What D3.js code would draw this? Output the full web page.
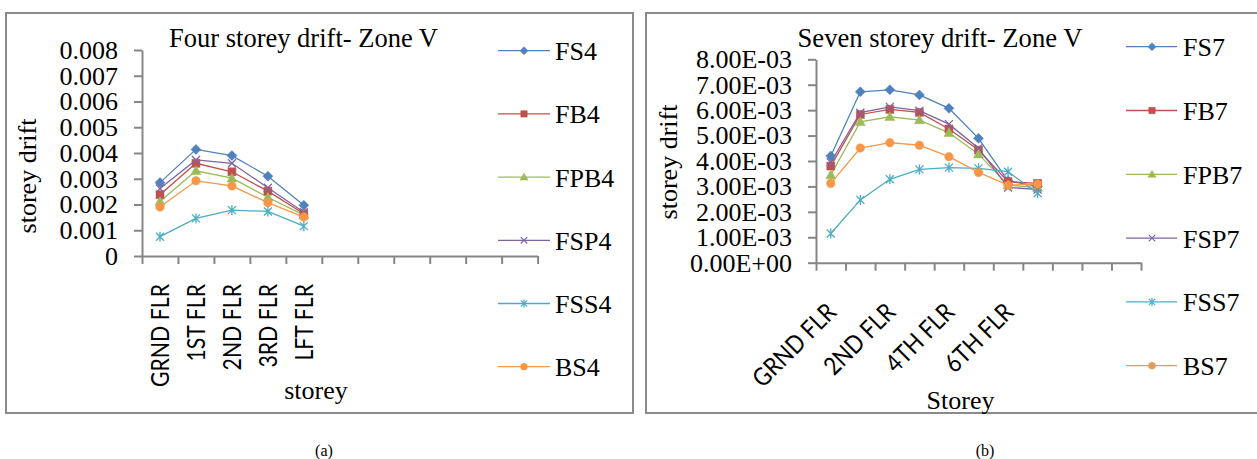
<!DOCTYPE html>
<html>
<head>
<meta charset="utf-8">
<script src="https://cdn.jsdelivr.net/npm/d3@7"></script>
<style>
  body { margin: 0; background: #fff; }
  text { font-family: "Liberation Serif", "Times New Roman", serif; fill: #000; }
  .cat text { font-family: Lato, "Open Sans", sans-serif; }
</style>
</head>
<body>
<svg id="canvas"></svg>
<script>
const width = 1257
const height = 459

// chart (a) - four storey
const floors4 = ["GRND FLR", "1ST FLR", "2ND FLR", "3RD FLR", "LFT FLR"]
const series4 = ["FS4", "FB4", "FPB4", "FSP4", "FSS4", "BS4"]
const fs4  = [0.00285, 0.00414, 0.00390, 0.00310, 0.00197]
const fb4  = [0.00238, 0.00360, 0.00327, 0.00252, 0.00164]
const fpb4 = [0.00212, 0.00331, 0.00302, 0.00228, 0.00159]
const fsp4 = [0.00262, 0.00373, 0.00360, 0.00265, 0.00170]
const fss4 = [0.00075, 0.00146, 0.00178, 0.00173, 0.00116]
const bs4  = [0.00190, 0.00292, 0.00272, 0.00207, 0.00151]

// chart (b) - seven storey
const floors7 = ["GRND FLR", "1ST FLR", "2ND FLR", "3RD FLR", "4TH FLR", "5TH FLR", "6TH FLR", "LFT FLR"]
const series7 = ["FS7", "FB7", "FPB7", "FSP7", "FSS7", "BS7"]
const fs7  = [0.00420, 0.00672, 0.00680, 0.00660, 0.00607, 0.00489, 0.00322, 0.00300]
const fb7  = [0.00380, 0.00583, 0.00603, 0.00591, 0.00526, 0.00443, 0.00319, 0.00312]
const fpb7 = [0.00345, 0.00554, 0.00574, 0.00561, 0.00511, 0.00427, 0.00305, 0.00295]
const fsp7 = [0.00395, 0.00590, 0.00613, 0.00598, 0.00545, 0.00450, 0.00296, 0.00288]
const fss7 = [0.00115, 0.00247, 0.00328, 0.00367, 0.00374, 0.00371, 0.00358, 0.00273]
const bs7  = [0.00312, 0.00451, 0.00472, 0.00462, 0.00417, 0.00355, 0.00305, 0.00309]

const yTicks = [0, 0.001, 0.002, 0.003, 0.004, 0.005, 0.006, 0.007, 0.008]
const slots = 11

const colors = ["#4F81BD", "#C0504D", "#9BBB59", "#8064A2", "#4BACC6", "#F79646"]
const shapes = ["diamond", "square", "triangle", "x", "star", "circle"]

const plainFmt = d => d === 0 ? "0" : d.toFixed(3)
const sciFmt = d => {
  const [m, e] = d.toExponential(2).split("e")
  const n = +e
  return m + "E" + (n < 0 ? "-" : "+") + String(Math.abs(n)).padStart(2, "0")
}

const markerPath = (shape, r) => {
  if (shape === "diamond") return `M0,${-r}L${r},0L0,${r}L${-r},0Z`
  if (shape === "square") return `M${-r * 0.8},${-r * 0.8}H${r * 0.8}V${r * 0.8}H${-r * 0.8}Z`
  if (shape === "triangle") return `M0,${-r}L${r},${r * 0.75}L${-r},${r * 0.75}Z`
  if (shape === "x") return `M${-r * 0.8},${-r * 0.8}L${r * 0.8},${r * 0.8}M${-r * 0.8},${r * 0.8}L${r * 0.8},${-r * 0.8}`
  if (shape === "star") return `M${-r * 0.8},${-r * 0.8}L${r * 0.8},${r * 0.8}M${-r * 0.8},${r * 0.8}L${r * 0.8},${-r * 0.8}M0,${-r}L0,${r}`
  const c = r * 0.85
  return `M${-c},0A${c},${c} 0 1,0 ${c},0A${c},${c} 0 1,0 ${-c},0Z`
}
const filled = s => s !== "x" && s !== "star"

// scale a text's font so it spans the width seen in the picture
const fitFont = (sel, base, target) => {
  const len = sel.node().getComputedTextLength()
  const size = len > 0 ? base * target / len : base
  sel.attr("font-size", size)
  return size
}

const charts = [
  {
    floors: floors4, names: series4, values: [fs4, fb4, fpb4, fsp4, fss4, bs4],
    shown: i => i < floors4.length, rotate: -90, fmt: plainFmt,
    title: "Four storey drift- Zone V", titleW: 269, xTitle: "storey", caption: "(a)",
    frame: [6, 13, 633, 413], x0: 142, x1: 537.6, yTop: 50, yBottom: 256,
    titleX: 303.5, yLabel: [36, 176], xLabel: [316, 399], capX: 324,
    legX: [498, 550, 524, 555], legY0: 50.7, legStep: 63.2
  },
  {
    floors: floors7, names: series7, values: [fs7, fb7, fpb7, fsp7, fss7, bs7],
    shown: i => i < floors7.length && i % 2 === 0, rotate: -45, fmt: sciFmt,
    title: "Seven storey drift- Zone V", titleW: 285, xTitle: "Storey", caption: "(b)",
    frame: [646, 13, 1262, 413], x0: 816, x1: 1141, yTop: 59.3, yBottom: 262.7,
    titleX: 940, yLabel: [677, 162], xLabel: [960.5, 409], capX: 985,
    legX: [1126, 1177, 1152, 1183], legY0: 46.7, legStep: 63.8
  }
]

const canvas = d3.select("#canvas").attr("width", width).attr("height", height)

const drawChart = (c) => {
  const g = canvas.append("g")

  g.append("rect")
    .attr("x", c.frame[0]).attr("y", c.frame[1])
    .attr("width", c.frame[2] - c.frame[0]).attr("height", c.frame[3] - c.frame[1])
    .attr("fill", "none").attr("stroke", "#8a8a8a").attr("stroke-width", 2)

  const xScale = d3.scaleBand().domain(d3.range(slots)).range([c.x0, c.x1])
  const edgeScale = d3.scaleLinear().domain([0, slots]).range([c.x0, c.x1])
  const yScale = d3.scaleLinear().domain([0, 0.008]).range([c.yBottom, c.yTop])

  // y axis
  const yAxis = d3.axisLeft(yScale).tickValues(yTicks).tickSize(8).tickSizeOuter(0)
    .tickPadding(16).tickFormat(c.fmt)
  const ya = g.append("g").attr("transform", `translate(${c.x0},0)`).call(yAxis)
  ya.selectAll("text").attr("font-size", 26).attr("fill", "#000")

  // x axis tick marks between categories
  const xTicks = d3.axisBottom(edgeScale).tickValues(d3.range(slots + 1)).tickSize(8)
    .tickSizeOuter(0).tickFormat("")
  g.append("g").attr("transform", `translate(0,${c.yBottom})`).call(xTicks)

  g.selectAll(".domain, .tick line").attr("stroke", "#868686").attr("stroke-width", 2)

  // category labels: Calibri-like, squeezed to the length seen in the picture
  const catAxis = d3.axisBottom(xScale).tickSize(0)
    .tickFormat(i => c.shown(i) ? c.floors[i] : "")
  const ca = g.append("g").attr("class", "cat").attr("transform", `translate(0,${c.yBottom})`).call(catAxis)
  ca.select(".domain").remove()
  const labels = ca.selectAll("text").attr("fill", "#000").attr("font-size", 25)
  const first = labels.filter((d, i) => i === 0).node().getComputedTextLength()
  const ratio = first > 0 ? (c.rotate === -90 ? 103 : 106) / first : 1
  labels.each(function () {
    const len = this.getComputedTextLength()
    if (len > 0) d3.select(this).attr("textLength", len * ratio).attr("lengthAdjust", "spacingAndGlyphs")
  })
  if (c.rotate === -90) {
    labels.attr("text-anchor", "end").attr("y", 0).attr("dy", "0.36em")
      .attr("transform", "translate(0,28) rotate(-90)")
  } else {
    labels.attr("text-anchor", "end").attr("y", 0).attr("dy", 0)
      .attr("transform", "translate(7,51) rotate(-45)")
  }

  // lines and markers
  const line = d3.line().x((d, i) => xScale(i) + xScale.bandwidth() / 2).y(d => yScale(d))
  c.values.forEach((vals, s) => {
    g.append("path").datum(vals).attr("d", line)
      .attr("fill", "none").attr("stroke", colors[s]).attr("stroke-width", 1.3)
  })
  c.values.forEach((vals, s) => {
    g.selectAll(null).data(vals).enter().append("path")
      .attr("transform", (d, i) => `translate(${xScale(i) + xScale.bandwidth() / 2},${yScale(d)})`)
      .attr("d", markerPath(shapes[s], 5))
      .attr("fill", filled(shapes[s]) ? colors[s] : "none")
      .attr("stroke", colors[s]).attr("stroke-width", filled(shapes[s]) ? 0.5 : 1.3)
  })

  // legend
  c.names.forEach((name, s) => {
    const y = c.legY0 + s * c.legStep
    g.append("line").attr("x1", c.legX[0]).attr("x2", c.legX[1]).attr("y1", y).attr("y2", y)
      .attr("stroke", colors[s]).attr("stroke-width", 1.3)
    g.append("path").attr("transform", `translate(${c.legX[2]},${y})`)
      .attr("d", markerPath(shapes[s], 4))
      .attr("fill", filled(shapes[s]) ? colors[s] : "none")
      .attr("stroke", colors[s]).attr("stroke-width", filled(shapes[s]) ? 0.5 : 1.2)
    g.append("text").attr("x", c.legX[3]).attr("y", y + 9.5).attr("font-size", 26).text(name)
  })

  // titles
  const t = g.append("text").attr("x", c.titleX).attr("y", 46.5).attr("text-anchor", "middle")
    .attr("font-size", 25).text(c.title)
  fitFont(t, 25, c.titleW)
  g.append("text").attr("text-anchor", "middle").attr("font-size", 26)
    .attr("transform", `translate(${c.yLabel[0]},${c.yLabel[1]}) rotate(-90)`).text("storey drift")
  g.append("text").attr("x", c.xLabel[0]).attr("y", c.xLabel[1]).attr("text-anchor", "middle")
    .attr("font-size", 26).text(c.xTitle)
  g.append("text").attr("x", c.capX).attr("y", 456).attr("text-anchor", "middle")
    .attr("font-size", 16).text(c.caption)
}

charts.forEach(drawChart)
</script>
</body>
</html>
